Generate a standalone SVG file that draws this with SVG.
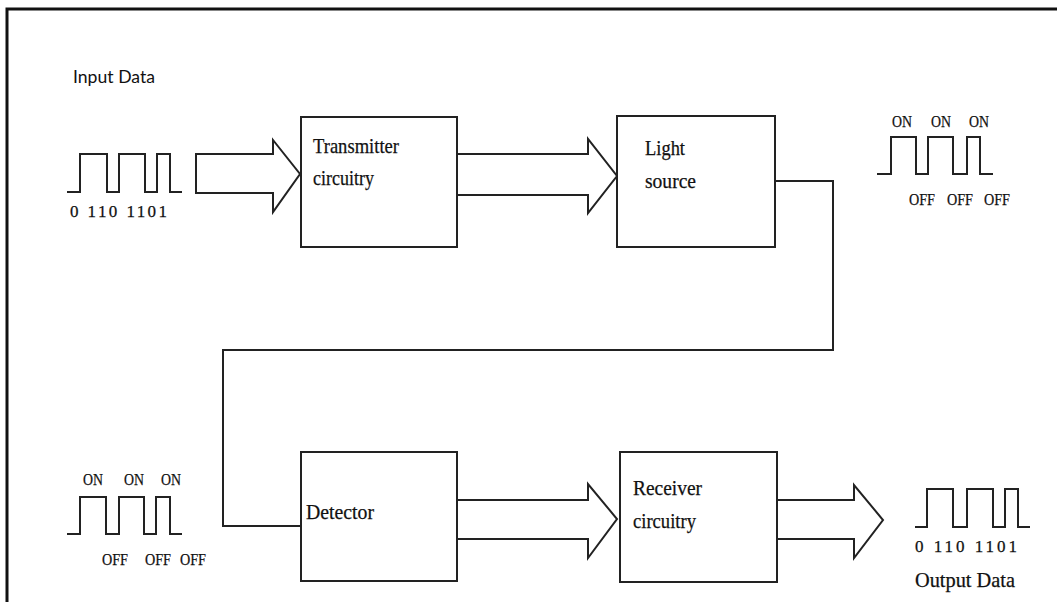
<svg xmlns="http://www.w3.org/2000/svg" width="1057" height="602" viewBox="0 0 1057 602">
  <defs>
    <style>
      .frame { fill: none; stroke: #111; stroke-width: 3; }
      .box { fill: #fff; stroke: #222; stroke-width: 2; }
      .arrow { fill: #fff; stroke: #222; stroke-width: 2; stroke-linejoin: miter; }
      .wire { fill: none; stroke: #222; stroke-width: 2; }
      .wave { fill: none; stroke: #222; stroke-width: 2; }
      .label, .small, .bits { font-family: "Liberation Serif", "Times New Roman", serif; fill: #111; stroke: #111; stroke-width: 0.25; }
      .label { font-size: 21px; }
      .small { font-size: 17px; }
      .bits { font-size: 17px; }
      .sans { font-family: "Lato", "Liberation Sans", sans-serif; font-size: 17.5px; fill: #111; }
    </style>
  </defs>

  <rect width="1057" height="602" fill="#fff"/>

  <!-- page frame: top and left edges -->
  <path class="frame" d="M7,602 V9 H1057"/>

  <!-- input data -->
  <g id="input-data">
    <text class="sans" x="73" y="83" textLength="82" lengthAdjust="spacingAndGlyphs">Input Data</text>
    <path class="wave" d="M67,192 H80 V154 H107 V192 H119 V154 H145 V192 H157 V154 H170 V192 H182"/>
    <text class="bits" x="70" y="217" textLength="97">0 110 1101</text>
  </g>

  <!-- connectors -->
  <g id="connectors">
    <polygon class="arrow" points="196,154 273,154 273,140 300,174 273,212 273,193 196,193"/>
    <polygon class="arrow" points="457,154 588,154 588,139 617,176 588,213 588,195 457,195"/>
    <path class="wire" d="M775,181 H833 V350 H223 V526 H301"/>
    <polygon class="arrow" points="457,500 588,500 588,484 617,519 588,558 588,539 457,539"/>
    <polygon class="arrow" points="777,500 854,500 854,485 883,520 854,558 854,539 777,539"/>
  </g>

  <g id="transmitter">
    <rect class="box" x="301" y="117" width="156" height="130"/>
    <text class="label" x="313" y="153" textLength="86" lengthAdjust="spacingAndGlyphs">Transmitter</text>
    <text class="label" x="313" y="185" textLength="61" lengthAdjust="spacingAndGlyphs">circuitry</text>
  </g>

  <g id="light-source">
    <rect class="box" x="617" y="116" width="158" height="131"/>
    <text class="label" x="645" y="155" textLength="40" lengthAdjust="spacingAndGlyphs">Light</text>
    <text class="label" x="645" y="188" textLength="51" lengthAdjust="spacingAndGlyphs">source</text>
  </g>

  <!-- optical pulses after the source -->
  <g id="optical-pulses-tx">
    <text class="small" x="892" y="127" textLength="20" lengthAdjust="spacingAndGlyphs">ON</text>
    <text class="small" x="931" y="127" textLength="20" lengthAdjust="spacingAndGlyphs">ON</text>
    <text class="small" x="969" y="127" textLength="20" lengthAdjust="spacingAndGlyphs">ON</text>
    <path class="wave" d="M877,174 H891 V137 H916 V174 H928 V137 H953 V174 H967 V137 H980 V174 H993"/>
    <text class="small" x="909" y="205" textLength="26" lengthAdjust="spacingAndGlyphs">OFF</text>
    <text class="small" x="947" y="205" textLength="26" lengthAdjust="spacingAndGlyphs">OFF</text>
    <text class="small" x="984" y="205" textLength="26" lengthAdjust="spacingAndGlyphs">OFF</text>
  </g>

  <!-- optical pulses before the detector -->
  <g id="optical-pulses-rx">
    <text class="small" x="83" y="485" textLength="20" lengthAdjust="spacingAndGlyphs">ON</text>
    <text class="small" x="124" y="485" textLength="20" lengthAdjust="spacingAndGlyphs">ON</text>
    <text class="small" x="161" y="485" textLength="20" lengthAdjust="spacingAndGlyphs">ON</text>
    <path class="wave" d="M67,534 H80 V497 H106 V534 H119 V497 H144 V534 H156 V497 H170 V534 H182"/>
    <text class="small" x="102" y="565" textLength="26" lengthAdjust="spacingAndGlyphs">OFF</text>
    <text class="small" x="145" y="565" textLength="26" lengthAdjust="spacingAndGlyphs">OFF</text>
    <text class="small" x="180" y="565" textLength="26" lengthAdjust="spacingAndGlyphs">OFF</text>
  </g>

  <g id="detector">
    <rect class="box" x="301" y="452" width="156" height="129"/>
    <text class="label" x="306" y="519" textLength="68" lengthAdjust="spacingAndGlyphs">Detector</text>
  </g>

  <g id="receiver">
    <rect class="box" x="620" y="452" width="157" height="130"/>
    <text class="label" x="633" y="495" textLength="69" lengthAdjust="spacingAndGlyphs">Receiver</text>
    <text class="label" x="633" y="528" textLength="63" lengthAdjust="spacingAndGlyphs">circuitry</text>
  </g>

  <g id="output-data">
    <path class="wave" d="M915,527 H927 V489 H953 V527 H967 V489 H993 V527 H1005 V489 H1018 V527 H1030"/>
    <text class="bits" x="915" y="552" textLength="102">0 110 1101</text>
    <text class="label" x="915" y="587" textLength="100" lengthAdjust="spacingAndGlyphs">Output Data</text>
  </g>
</svg>
